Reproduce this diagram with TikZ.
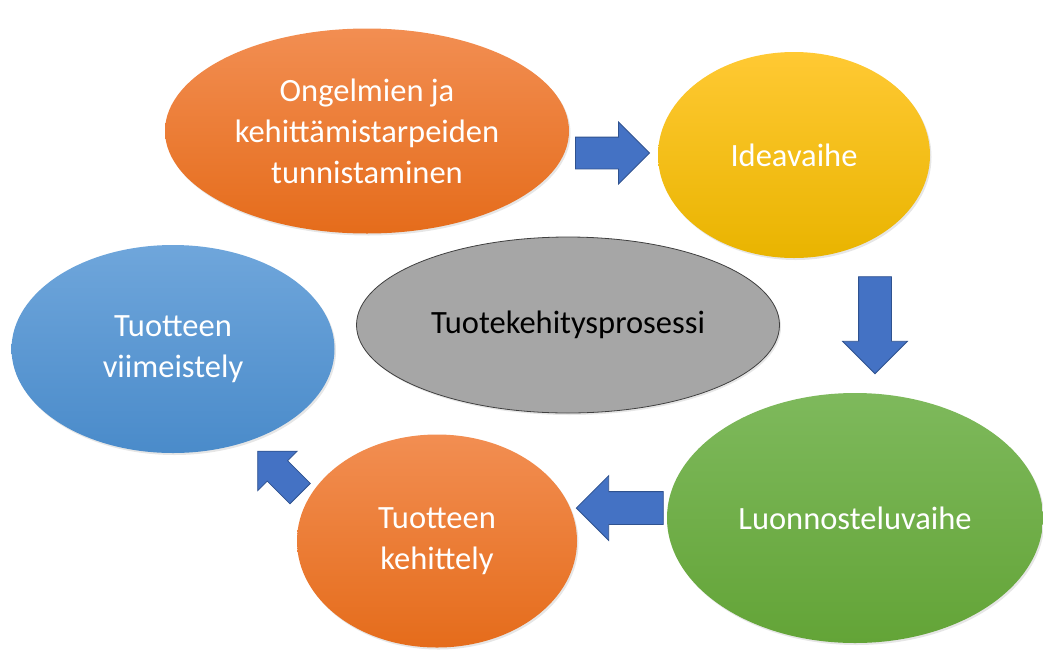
\documentclass[tikz,border=0pt]{standalone}
\usepackage{fontspec}
\setmainfont{Carlito}
\usetikzlibrary{shapes.geometric,shapes.arrows,shadows}
\definecolor{orangetop}{HTML}{F28E52}
\definecolor{orangebot}{HTML}{E56C1B}
\definecolor{yellowtop}{HTML}{FFC933}
\definecolor{yellowbot}{HTML}{E9B400}
\definecolor{bluetop}{HTML}{6FA6DB}
\definecolor{bluebot}{HTML}{4A8BCA}
\definecolor{greentop}{HTML}{7EB95C}
\definecolor{greenbot}{HTML}{63A437}
\definecolor{grayfill}{HTML}{A6A6A6}
\definecolor{arrowfill}{HTML}{4472C4}
\definecolor{arrowline}{HTML}{2F528F}

\begin{document}
\begin{tikzpicture}[x=1pt,y=-1pt]
\tikzset{phase/.style={ellipse,inner sep=0pt,align=center,text=white,
    font=\fontsize{32.5}{41}\selectfont,
    drop shadow={opacity=0.2,shadow xshift=1.5pt,shadow yshift=-2pt}},
  flow/.style={single arrow,draw=arrowline,fill=arrowfill,line width=0.8pt,
    inner xsep=0pt}}
\useasboundingbox (0,0) rectangle (1043,651);
% phases
\node [phase,top color=orangetop,bottom color=orangebot,minimum width=404pt,minimum height=205pt] (tunnist) at (367,131) {Ongelmien ja\\kehittämistarpeiden\\tunnistaminen};
\node [phase,top color=yellowtop,bottom color=yellowbot,minimum width=272pt,minimum height=206pt] (idea) at (794,155) {Ideavaihe};
\node [phase,fill=grayfill,draw=black!75,line width=0.8pt,text=black,minimum width=423pt,minimum height=176pt] (prosessi) at (568,325) {Tuotekehitysprosessi};
\node [phase,top color=greentop,bottom color=greenbot,minimum width=376pt,minimum height=250pt] (luonnos) at (855,518) {Luonnosteluvaihe};
\node [phase,top color=orangetop,bottom color=orangebot,minimum width=280pt,minimum height=213pt] (kehitys) at (437,541) {Tuotteen\\kehittely};
\node [phase,top color=bluetop,bottom color=bluebot,minimum width=323pt,minimum height=208pt] (viimeist) at (173,349) {Tuotteen\\viimeistely};
% block arrows
\node [flow,minimum height=74pt,inner ysep=15.5pt,single arrow head extend=15pt] (nuoli1) at (604.5,153) {};
\node [flow,minimum height=97pt,inner ysep=16pt,single arrow head extend=16pt,rotate=-90] (nuoli2) at (875,317) {};
\node [flow,minimum height=87pt,inner ysep=16pt,single arrow head extend=16pt,rotate=180] (nuoli3) at (628,508) {};
\node [flow,minimum height=60pt,inner ysep=14pt,single arrow head extend=13.5pt,rotate=135] (nuoli4) at (284,477.5) {};
\end{tikzpicture}
\end{document}
